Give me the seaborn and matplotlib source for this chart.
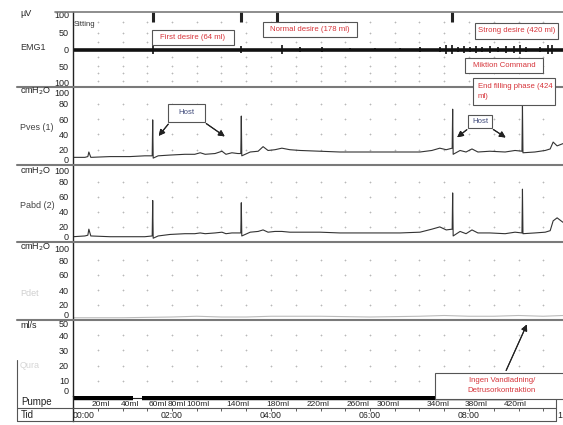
import numpy as np
import matplotlib.pyplot as plt
import seaborn as sns
from matplotlib.lines import Line2D
from matplotlib.patches import Rectangle

# ---- data (time in minutes) ----
t_press = [0.00, 0.24, 0.30, 0.32, 0.36, 0.75, 1.15, 1.45, 1.60, 1.61, 1.62, 1.72, 1.96, 2.26, 2.46,
           2.57, 2.67, 2.87, 3.01, 3.09, 3.21, 3.33, 3.39, 3.40, 3.41, 3.58, 3.74, 3.84, 3.94, 4.08,
           4.22, 4.38, 4.59, 4.99, 5.39, 5.80, 6.20, 6.61, 7.01, 7.25, 7.41, 7.54, 7.66, 7.67, 7.68,
           7.82, 7.94, 8.06, 8.18, 8.42, 8.73, 8.93, 9.07, 9.08, 9.09, 9.33, 9.54, 9.64, 9.70, 9.78, 9.90]
pves = [10, 10, 11, 17, 10, 11, 11, 12, 12, 59, 9, 12, 13, 14, 14,
        16, 14, 15, 18, 14, 16, 15, 15, 64, 12, 17, 18, 24, 19, 20,
        22, 20, 19, 18, 17, 17, 17, 17, 17, 19, 22, 20, 22, 73, 14,
        19, 17, 21, 17, 18, 17, 19, 18, 78, 16, 17, 19, 21, 30, 25, 28]
pabd = [7, 8, 9, 17, 8, 7, 7, 7, 8, 55, 5, 8, 10, 11, 11,
        12, 11, 12, 13, 11, 12, 12, 12, 52, 8, 13, 14, 16, 13, 14,
        14, 13, 13, 13, 12, 12, 12, 12, 13, 17, 20, 16, 17, 65, 8,
        14, 11, 16, 12, 12, 11, 13, 12, 70, 11, 12, 13, 15, 28, 32, 26]

t_pdet = [0.0, 1.0, 2.0, 2.5, 3.0, 3.5, 4.0, 5.0, 6.0, 7.0, 7.5, 8.0, 8.5, 9.0, 9.5, 9.9]
pdet = [3, 3, 4, 5, 4, 4, 5, 5, 4, 5, 6, 5, 5, 6, 5, 6]

# EMG bursts (µV amplitude)
emg_t = [1.61, 3.40, 4.22, 4.59, 5.03, 5.60, 6.10, 6.61, 7.01, 7.41, 7.54, 7.66, 7.78, 7.90,
         8.02, 8.14, 8.26, 8.42, 8.59, 8.75, 8.91, 9.03, 9.15, 9.43, 9.60, 9.68]
emg_amp = [14, 10, 12, 6, 6, 5, 5, 5, 6, 8, 12, 14, 8, 9, 8, 9, 8, 10, 8, 10, 10, 12, 8, 8, 12, 14]
event_t = [1.61, 3.40, 4.12, 7.66]

# pump
pump_on = [(0.0, 1.21), (1.39, 9.09)]
vol_labels = ['20ml', '40ml', '60ml', '80ml', '100ml', '140ml', '180ml', '220ml', '260ml',
              '300ml', '340ml', '380ml', '420ml']
vol_t = [0.57, 1.15, 1.71, 2.09, 2.52, 3.33, 4.14, 4.95, 5.76, 6.36, 7.37, 8.14, 8.93]
time_labels = ['00:00', '02:00', '04:00', '06:00', '08:00']
time_t = [0, 2, 4, 6, 8]

sns.set_theme(style="white")
plt.rcParams['font.family'] = ['Liberation Sans', 'DejaVu Sans']

W, H = 563, 425
fig = plt.figure(figsize=(W / 100, H / 100), dpi=100)
fig.patch.set_facecolor('white')


def fx(x):
    return x / W


def fy(y):
    return 1 - y / H


X0, X1 = 73, 563
XMAX = (X1 - X0) / 49.5
RED = '#d6343a'


def panel(top, bot):
    ax = fig.add_axes([fx(X0), fy(bot), fx(X1) - fx(X0), (bot - top) / H])
    ax.set_xlim(0, XMAX)
    ax.set_facecolor('white')
    for s in ['top', 'right', 'bottom']:
        ax.spines[s].set_visible(False)
    ax.spines['left'].set_color('#222')
    ax.spines['left'].set_linewidth(1.0)
    ax.set_xticks([])
    ax.tick_params(axis='y', length=0, pad=3, labelsize=6.5, colors='#222')
    return ax


def set_ticks(ax, ticks, labels):
    ax.set_yticks(ticks)
    ax.set_yticklabels(labels)
    tl = ax.get_yticklabels()
    tl[0].set_va('bottom')
    tl[-1].set_va('top')


def dots(ax, rows):
    cols = np.arange(0.5, XMAX, 0.5)
    xx, yy = np.meshgrid(cols, rows)
    ax.scatter(xx.ravel(), yy.ravel(), marker='+', s=3, color='#b8b8b8', linewidths=0.5)


# EMG
ax_emg = panel(12, 87)
ax_emg.set_ylim(-110, 110)
set_ticks(ax_emg, [-100, -50, 0, 50, 100], ['100', '50', '0', '50', '100'])
ax_emg.get_yticklabels()[0].set_va('center')
ax_emg.get_yticklabels()[-1].set_va('center')
dots(ax_emg, [-93, -70, -47, -22, 22, 47, 80])
sns.lineplot(x=[0, XMAX], y=[0, 0], ax=ax_emg, color='#111', lw=2.6)
ax_emg.vlines(emg_t, [-a for a in emg_amp], emg_amp, color='#111', lw=1.2)
ax_emg.vlines(event_t, 82, 110, color='#222', lw=2.2)

# Pves
ax_pves = panel(87, 165)
ax_pves.set_ylim(0, 102)
set_ticks(ax_pves, [0, 20, 40, 60, 80, 100], ['0', '20', '40', '60', '80', '100'])
dots(ax_pves, [20, 40, 60, 80])
sns.lineplot(x=t_press, y=pves, ax=ax_pves, color='#333', lw=0.8, estimator=None, sort=False)

# Pabd
ax_pabd = panel(165, 242)
ax_pabd.set_ylim(0, 102)
set_ticks(ax_pabd, [0, 20, 40, 60, 80, 100], ['0', '20', '40', '60', '80', '100'])
dots(ax_pabd, [20, 40, 60, 80])
sns.lineplot(x=t_press, y=pabd, ax=ax_pabd, color='#333', lw=0.8, estimator=None, sort=False)

# Pdet
ax_pdet = panel(242, 320)
ax_pdet.set_ylim(0, 104)
set_ticks(ax_pdet, [0, 20, 40, 60, 80, 100], ['0', '20', '40', '60', '80', '100'])
dots(ax_pdet, [20, 40, 60, 80])
sns.lineplot(x=t_pdet, y=pdet, ax=ax_pdet, color='#bbbbbb', lw=0.8, estimator=None, sort=False)

# Flow
ax_q = panel(320, 396)
ax_q.set_ylim(0, 50)
set_ticks(ax_q, [0, 10, 20, 30, 40, 50], ['0', '10', '20', '30', '40', '50'])
dots(ax_q, [10, 20, 30, 40])

# Pumpe row
ax_pu = panel(396, 408)
ax_pu.set_ylim(0, 1)
ax_pu.set_yticks([])
ax_pu.hlines(0.85, 0, 9.76, color='#222', lw=0.8)
for a, b in pump_on:
    ax_pu.hlines(0.85, a, b, color='#000', lw=3.2)
for lab, t in zip(vol_labels, vol_t):
    ax_pu.text(t, 0.25, lab, ha='center', va='center', fontsize=6, color='#222')

# Tid row
ax_tid = panel(408, 421)
ax_tid.set_ylim(0, 1)
ax_tid.set_yticks([])
ax_tid.set_xticks(np.arange(0.5, XMAX, 0.5))
ax_tid.tick_params(axis='x', direction='in', top=True, bottom=False, length=2.5,
                   width=0.6, color='#444', labelbottom=False)
for lab, t in zip(time_labels, time_t):
    ax_tid.text(t, 0.4, lab, ha='left' if t == 0 else 'center', va='center',
                fontsize=6.3, color='#222')
fig.text(fx(557), fy(415), '1', ha='left', va='center', fontsize=6.3, color='#222')

# separators and frame lines
for y in [87, 165, 242, 320]:
    fig.add_artist(Line2D([fx(17), fx(563)], [fy(y), fy(y)], color='#7a7a7a', lw=1.5))
fig.add_artist(Line2D([fx(55), fx(563)], [fy(12), fy(12)], color='#7a7a7a', lw=1.2))
fig.add_artist(Line2D([fx(17), fx(556)], [fy(408), fy(408)], color='#555', lw=0.8))
fig.add_artist(Line2D([fx(17), fx(556)], [fy(421), fy(421)], color='#555', lw=0.8))
fig.add_artist(Line2D([fx(17), fx(17)], [fy(360), fy(421)], color='#555', lw=0.8))
fig.add_artist(Line2D([fx(556), fx(556)], [fy(398), fy(421)], color='#555', lw=0.8))

# left-hand channel labels
left = [('µV', 14, '#222'), ('EMG1', 48, '#333'), ('cmH$_2$O', 91, '#222'),
        ('Pves (1)', 128, '#444'), ('cmH$_2$O', 171, '#222'), ('Pabd (2)', 205, '#444'),
        ('cmH$_2$O', 247, '#222'), ('Pdet', 293, '#cfcfcf'), ('ml/s', 325, '#222'),
        ('Qura', 366, '#d5d5d5')]
for txt, y, c in left:
    fig.text(fx(20), fy(y), txt, ha='left', va='center', fontsize=6.5, color=c)
fig.text(fx(21), fy(402), 'Pumpe', ha='left', va='center', fontsize=7, color='#222')
fig.text(fx(21), fy(415), 'Tid', ha='left', va='center', fontsize=7, color='#222')
fig.text(fx(74), fy(25), 'Sitting', ha='left', va='center', fontsize=5.5, color='#333')


# annotation boxes, given by their pixel extents
def box(x0, y0, x1, y1, txt, color=RED, ha='center', tx=None, fs=5.6):
    fig.add_artist(Rectangle((fx(x0), fy(y1)), fx(x1) - fx(x0), (y1 - y0) / H,
                             transform=fig.transFigure, fc='white', ec='#555', lw=0.8,
                             zorder=5))
    x = tx if tx is not None else (x0 + x1) / 2
    fig.text(fx(x), fy((y0 + y1) / 2), txt, ha=ha, va='center', fontsize=fs, color=color,
             linespacing=1.6, zorder=6)


box(152, 30, 234, 45, 'First desire (64 ml)')
box(263, 22, 357, 37, 'Normal desire (178 ml)')
box(475, 23, 558, 39, 'Strong desire (420 ml)')
box(465, 58, 543, 73, 'Miktion Command')
box(473, 78, 555, 105, 'End filling phase (424\nml)', ha='left', tx=478)
box(168, 104, 205, 122, 'Host', color='#3f4a7a')
box(468, 115, 492, 128, 'Host', color='#3f4a7a')
box(435, 373, 580, 399, 'Ingen Vandladning/\nDetrusorkontraktion', tx=502)


def arrow(x0, y0, x1, y1):
    a = plt.annotate('', xy=(fx(x1), fy(y1)), xytext=(fx(x0), fy(y0)),
                     xycoords='figure fraction', textcoords='figure fraction',
                     arrowprops=dict(arrowstyle='-|>', color='#222', lw=0.8,
                                     mutation_scale=9))
    a.set_zorder(7)
    fig.add_artist(a)


arrow(170, 122, 157, 138)
arrow(204, 122, 227, 138)
arrow(469, 128, 455, 139)
arrow(491, 128, 508, 139)
arrow(505, 373, 528, 322)

plt.savefig('out.png', dpi=100)
